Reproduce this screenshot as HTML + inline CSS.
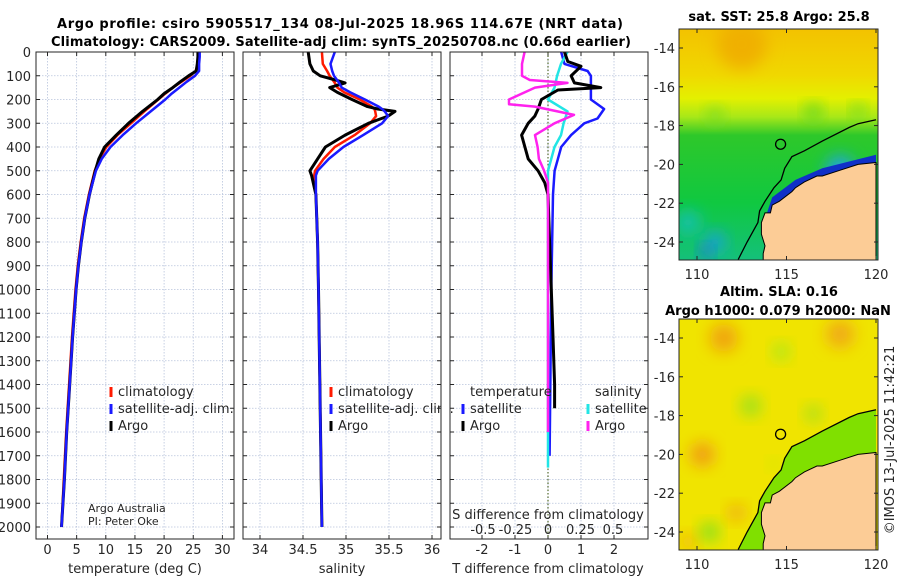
<!DOCTYPE html>
<html><head><meta charset="utf-8"><style>
body{margin:0;background:#fff}
svg text{font-family:"DejaVu Sans","Liberation Sans",sans-serif;fill:#262626}
.b{font-weight:bold;fill:#000}
</style></head><body>
<svg id="s" width="900" height="580" xmlns="http://www.w3.org/2000/svg">
<defs>
<filter id="bl" x="-50%" y="-50%" width="200%" height="200%"><feGaussianBlur stdDeviation="8"/></filter>
<clipPath id="c1"><rect x="679" y="29" width="199" height="231"/></clipPath>
<clipPath id="c2"><rect x="679" y="319" width="199" height="231"/></clipPath>
<linearGradient id="g1" x1="0" y1="0" x2="0" y2="1">
<stop offset="0" stop-color="#f3c200"/><stop offset="0.2" stop-color="#f0d800"/><stop offset="0.3" stop-color="#e4f000"/><stop offset="0.38" stop-color="#a8e818"/><stop offset="0.46" stop-color="#2ec82a"/><stop offset="0.75" stop-color="#10c840"/><stop offset="1" stop-color="#14c07a"/></linearGradient>
</defs>
<text class="b" x="340" y="28" text-anchor="middle" font-size="13" textLength="566">Argo profile: csiro 5905517_134 08-Jul-2025 18.96S 114.67E (NRT data)</text>
<text class="b" x="341" y="46" text-anchor="middle" font-size="13" textLength="580">Climatology: CARS2009. Satellite-adj clim: synTS_20250708.nc (0.66d earlier)</text>
<g id="maps"></g>
<g id="panels"></g>
</svg>
<script>
// ---------- data ----------
const tDepth=[0,20,50,80,100,125,150,175,200,250,300,350,400,450,500,600,700,800,900,1000,1200,1400,1600,1800,2000];
const tArgo=[25.8,25.8,25.7,25.5,24.2,22.8,21.5,20.0,18.9,16.3,13.9,11.8,9.8,8.8,8.2,7.2,6.4,5.8,5.3,4.9,4.3,3.8,3.3,2.9,2.4];
const tClim=[25.9,25.9,25.8,25.4,24.5,23.0,21.5,20.2,19.0,16.6,14.3,12.0,10.1,8.9,8.1,7.1,6.3,5.7,5.2,4.8,4.2,3.7,3.2,2.8,2.4];
const tSat=[26.1,26.1,26.0,26.0,25.3,23.9,22.6,21.3,20.2,17.7,15.2,12.9,10.8,9.3,8.3,7.2,6.4,5.8,5.3,4.9,4.3,3.8,3.3,2.9,2.4];
const sDepth=[0,50,80,100,120,130,150,170,200,230,240,250,270,300,350,400,450,500,520,600,800,1000,1500,2000];
const sArgo=[34.56,34.58,34.62,34.70,34.9,34.99,34.81,34.9,35.07,35.25,35.37,35.57,35.49,35.26,34.99,34.76,34.67,34.58,34.60,34.65,34.67,34.68,34.70,34.72];
const sClim=[34.72,34.73,34.78,34.81,34.85,34.87,34.90,34.98,35.16,35.30,35.33,35.34,35.35,35.28,35.10,34.87,34.74,34.64,34.63,34.65,34.67,34.68,34.70,34.72];
const sSat=[34.87,34.82,34.84,34.86,34.90,34.92,34.95,35.05,35.22,35.38,35.42,35.45,35.49,35.42,35.20,34.97,34.80,34.67,34.65,34.65,34.67,34.68,34.70,34.72];
const dTArgoDepth=[0,40,60,100,130,150,160,200,240,270,300,350,400,450,500,550,600,800,1000,1200,1400,1500];
const dTArgo=[0.5,0.6,1.0,0.7,0.8,1.6,0.3,-0.2,-0.3,-0.4,-0.6,-0.8,-0.7,-0.6,-0.3,-0.1,0,0.05,0.1,0.15,0.2,0.2];
const dTSatDepth=[0,50,80,100,150,200,240,280,300,350,400,450,500,600,1000,1700];
const dTSat=[0.4,0.5,1.2,1.3,1.3,1.3,1.7,1.5,1.1,0.7,0.4,0.3,0.2,0.15,0.1,0.05];
const dSSatDepth=[0,50,100,150,200,250,300,350,400,500,600,1750];
const dSSat=[0.15,0.1,0.07,0.05,0,0.15,0.12,0.1,0.05,0,0,0];
const dSArgoDepth=[0,50,100,118,130,150,200,220,230,265,300,350,400,450,500,550,1600];
const dSArgo=[-0.18,-0.2,-0.2,-0.14,0.15,-0.1,-0.3,-0.3,-0.1,0.2,0.05,-0.1,-0.08,-0.07,-0.03,0,0];
const depthTicks=[0,100,200,300,400,500,600,700,800,900,1000,1100,1200,1300,1400,1500,1600,1700,1800,1900,2000];
const tTicks=[0,5,10,15,20,25,30];
const sTicks=[34,34.5,35,35.5,36];
const dTTicks=[-2,-1,0,1,2];
const dSTicks=[-0.5,-0.25,0,0.25,0.5];
const dSTickLabels=['-0.5','-0.25','0','0.25','0.5'];
const mapLatTicks=[-14,-16,-18,-20,-22,-24];
const mapLonTicks=[110,115,120];
const coast=[[120,-19.9],[119,-20.0],[118,-20.3],[117,-20.6],[116.7,-20.6],[116,-20.9],[115.5,-21.2],[115.3,-21.4],[114.6,-21.9],[114.2,-22.1],[114.1,-22.5],[113.8,-22.5],[113.6,-23.0],[113.6,-23.6],[113.8,-24.2],[113.7,-24.6],[113.7,-25.1],[120,-25.1]];
const shelf=[[120,-17.7],[119,-17.9],[118.5,-18.1],[117,-18.8],[116,-19.3],[115.3,-19.6],[114.9,-20.2],[114.7,-20.8],[114.3,-21.2],[113.8,-21.9],[113.5,-22.4],[113.4,-23.0],[112.8,-24.0],[112.3,-24.9]];
const argoPos=[114.67,-18.96];
// ---------- helpers ----------
const NS='http://www.w3.org/2000/svg';
function mk(tag,attrs,parent){const e=document.createElementNS(NS,tag);for(const k in attrs)e.setAttribute(k,attrs[k]);parent.appendChild(e);return e;}
const P=document.getElementById('panels');
const yD=d=>52+d*0.2375;
const Y0=52,Y1=539;
function panel(x0,x1,xs,ticks,labels,ty,name){
  const g=mk('g',{},P);
  
  
  ticks.forEach(t=>{const x=xs(t);mk('line',{x1:x,x2:x,y1:Y0,y2:Y1,stroke:'#b8c4dc','stroke-width':0.8,'stroke-dasharray':'1.5,1.5'},g);
    mk('line',{x1:x,x2:x,y1:Y1,y2:Y1-4,stroke:'#262626'},g);mk('line',{x1:x,x2:x,y1:Y0,y2:Y0+4,stroke:'#262626'},g);});
  depthTicks.forEach(d=>{const y=yD(d);mk('line',{x1:x0,x2:x1,y1:y,y2:y,stroke:'#b8c4dc','stroke-width':0.8,'stroke-dasharray':'1.5,1.5'},g);
    mk('line',{x1:x0,x2:x0+4,y1:y,y2:y,stroke:'#262626'},g);mk('line',{x1:x1,x2:x1-4,y1:y,y2:y,stroke:'#262626'},g);});
  if(labels) ticks.forEach((t,i)=>{const tx=mk('text',{x:xs(t),y:ty,'text-anchor':'middle','font-size':13},g);tx.textContent=labels[i];
    
    });
  return g;
}
function line(g,xs,depths,vals,color,w,name){
  const d=vals.map((v,i)=>(i?'L':'M')+xs(v).toFixed(1)+','+yD(depths[i]).toFixed(1)).join('');
  const p=mk('path',{d:d,fill:'none',stroke:color,'stroke-width':w,'stroke-linejoin':'round'},g);
  
  
}
function box(g,x0,x1){mk('rect',{x:x0,y:Y0,width:x1-x0,height:Y1-Y0,fill:'none',stroke:'#262626','stroke-width':1},g);}
function txt(g,x,y,s,size,anchor,name){const t=mk('text',{x:x,y:y,'font-size':size,'text-anchor':anchor||'start'},g);t.textContent=s;
  
  return t;}
function leg(g,x,y,color,label,name){mk('rect',{x:x-1.5,y:y-9,width:3,height:10,fill:color},g);const t=txt(g,x+7,y,label,13,'start',name);return t;}
// panel 1 temperature
const xT=v=>47.5+v*5.83;
let g1=panel(36,234,xT,tTicks,tTicks.map(String),554,'temperature-panel');
depthTicks.forEach(d=>{const t=txt(g1,31,yD(d)+5,String(d),13,'end','y-tick-label');});
line(g1,xT,tDepth,tClim,'#ff1a00',2.5,'temperature-climatology-line');
line(g1,xT,tDepth,tArgo,'#000',3,'temperature-argo-line');
line(g1,xT,tDepth,tSat,'#1a1aff',2.5,'temperature-satellite-line');
box(g1,36,234);
txt(g1,135,573,'temperature (deg C)',13,'middle','x-axis-title-temperature');
leg(g1,111,396,'#ff1a00','climatology','legend-climatology');
leg(g1,111,413,'#1a1aff','satellite-adj. clim.','legend-satellite');
leg(g1,111,430,'#000','Argo','legend-argo');
txt(g1,88,512,'Argo Australia',11,'start','credit-argo-australia');
txt(g1,88,525,'PI: Peter Oke',11,'start','credit-pi');
// panel 2 salinity
const xS=v=>260+(v-34)*86;
let g2=panel(243,441,xS,sTicks,['34','34.5','35','35.5','36'],554,'salinity-panel');
line(g2,xS,sDepth,sClim,'#ff1a00',2.5,'salinity-climatology-line');
line(g2,xS,sDepth,sArgo,'#000',3,'salinity-argo-line');
line(g2,xS,sDepth,sSat,'#1a1aff',2.5,'salinity-satellite-line');
box(g2,243,441);
txt(g2,342,573,'salinity',13,'middle','x-axis-title-salinity');
leg(g2,331,396,'#ff1a00','climatology','legend-climatology');
leg(g2,331,413,'#1a1aff','satellite-adj. clim.','legend-satellite');
leg(g2,331,430,'#000','Argo','legend-argo');
mk('rect',{x:441.5,y:400,width:8,height:20,fill:'#fff'},P);
// panel 3 differences
const xdT=v=>548+v*33;
const xdS=v=>548+v*130;
let g3=panel(450,648,xdT,dTTicks,dTTicks.map(String),554,'difference-panel');
mk('line',{x1:548,x2:548,y1:Y0,y2:Y1,stroke:'#556b2f','stroke-width':1.2,'stroke-dasharray':'1.5,2'},g3);
line(g3,xdT,dTSatDepth,dTSat,'#1a1aff',2.5,'tdiff-satellite-line');
line(g3,xdS,dSSatDepth,dSSat,'#22e5e5',2.5,'sdiff-satellite-line');
line(g3,xdT,dTArgoDepth,dTArgo,'#000',3,'tdiff-argo-line');
line(g3,xdS,dSArgoDepth,dSArgo,'#ff22ee',2.5,'sdiff-argo-line');
box(g3,450,648);
dSTicks.forEach((t,i)=>txt(g3,xdS(t),534,dSTickLabels[i],13,'middle','s-tick-label'));
txt(g3,548,519,'S difference from climatology',13,'middle','s-axis-title');
txt(g3,548,573,'T difference from climatology',13,'middle','x-axis-title-tdiff');
txt(g3,470,396,'temperature',13,'start','legend-temperature-heading');
leg(g3,463,413,'#1a1aff','satellite','legend-tdiff-satellite');
leg(g3,463,430,'#000','Argo','legend-tdiff-argo');
txt(g3,595,396,'salinity',13,'start','legend-salinity-heading');
leg(g3,588,413,'#22e5e5','satellite','legend-sdiff-satellite');
leg(g3,588,430,'#ff22ee','Argo','legend-sdiff-argo');
// ---------- maps ----------
const M=document.getElementById('maps');
const mx=l=>697+(l-110)*17.9;
function map(top,clip,name,bgFn){
  const g=mk('g',{},M);
  
  
  const my=la=>top+19+(-14-la)*19.4;
  const inner=mk('g',{'clip-path':'url(#'+clip+')'},g);
  bgFn(inner,my);
  const pts=coast.map(c=>mx(c[0]).toFixed(1)+','+my(c[1]).toFixed(1)).join(' ');
  const land=mk('polygon',{points:pts,fill:'#fccc96',stroke:'#000','stroke-width':1},inner);
  
  
  const sp=shelf.map(c=>mx(c[0]).toFixed(1)+','+my(c[1]).toFixed(1)).join(' ');
  mk('polyline',{points:sp,fill:'none',stroke:'#000','stroke-width':1.3},inner);
  const ci=mk('circle',{cx:mx(argoPos[0]),cy:my(argoPos[1]),r:5,fill:'none',stroke:'#000','stroke-width':1.3},g);
  
  
  mk('rect',{x:679,y:top,width:199,height:231,fill:'none',stroke:'#262626','stroke-width':1},g);
  mapLatTicks.forEach(la=>{const y=my(la);mk('line',{x1:878,x2:874,y1:y,y2:y,stroke:'#262626'},g);mk('line',{x1:679,x2:683,y1:y,y2:y,stroke:'#262626'},g);
    txt(g,675,y+5,String(la),13,'end','map-lat-label');});
  mapLonTicks.forEach(lo=>{const x=mx(lo);mk('line',{x1:x,x2:x,y1:top+231,y2:top+227,stroke:'#262626'},g);mk('line',{x1:x,x2:x,y1:top,y2:top+4,stroke:'#262626'},g);
    txt(g,x,top+250,String(lo),13,'middle','map-lon-label');});
  return my;
}
map(29,'c1','sst-map',(g,my)=>{
  mk('rect',{x:679,y:29,width:199,height:231,fill:'url(#g1)'},g);
  [[111,-24,10,'#1ea0e0'],[110.5,-24.5,6,'#2060f0'],[109.5,-23,12,'#18c0b0'],[112.5,-13.8,25,'#f0b000'],[118,-20.3,14,'#20a0f0'],
   [111,-17.5,8,'#70d820'],[116.5,-17.3,8,'#50d020'],[119,-17.2,6,'#50d020']].forEach(b=>{
    mk('circle',{cx:mx(b[0]),cy:my(b[1]),r:b[2],fill:b[3],filter:'url(#bl)'},g);});
  mk('polygon',{points:[[120,-19.5],[117,-20.2],[115.5,-20.8],[114.2,-21.7],[113.8,-22.8],[114.6,-22.3],[116,-21.1],[118,-20.6],[120,-20.1]].map(c=>mx(c[0])+','+my(c[1])).join(' '),fill:'#1030c8'},g);
});
map(319,'c2','sla-map',(g,my)=>{
  mk('rect',{x:679,y:319,width:199,height:231,fill:'#f0e400'},g);
  [[111.5,-14,14,'#f0a010'],[118,-13.8,14,'#f0a818'],[110.3,-20,12,'#f09818'],[112.2,-23,8,'#f0a018'],[109.5,-24.5,8,'#f0b010'],
   [114.7,-14.7,8,'#9ce820'],[113,-17.5,10,'#90e020'],[116.5,-17.9,8,'#98e020'],[110.7,-24,9,'#70e020'],[114.3,-20.5,5,'#c0ec10']].forEach(b=>{
    mk('circle',{cx:mx(b[0]),cy:my(b[1]),r:b[2],fill:b[3],filter:'url(#bl)'},g);});
  mk('polygon',{points:shelf.map(c=>mx(c[0])+','+my(c[1])).concat([[113.7,-25.1],[120,-25.1]].map(c=>mx(c[0])+','+my(c[1]))).join(' '),fill:'#80e000'},g);
});
txt(M,779,21,'sat. SST: 25.8 Argo: 25.8',13,'middle','sst-map-title').setAttribute('class','b');
txt(M,779,296,'Altim. SLA: 0.16',13,'middle','sla-map-title').setAttribute('class','b');
txt(M,778,315,'Argo h1000: 0.079 h2000: NaN',13,'middle','sla-map-subtitle').setAttribute('class','b');
const cp=txt(M,0,0,'©IMOS 13-Jul-2025 11:42:21',13,'middle','timestamp');
cp.setAttribute('transform','translate(894,440) rotate(-90)');
</script>
</body></html>
